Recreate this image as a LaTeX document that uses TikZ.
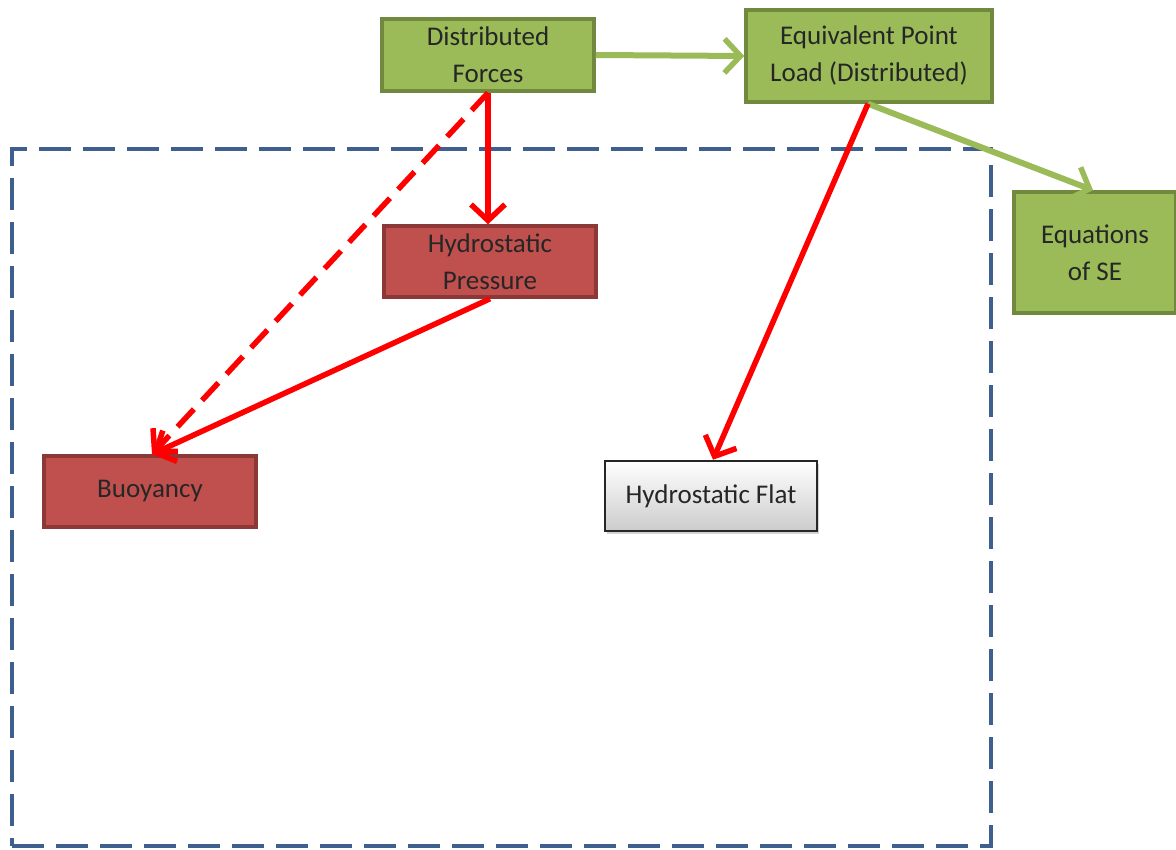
\documentclass[tikz,border=0pt]{standalone}
\usepackage{fontspec}
\setmainfont{Carlito}
\usetikzlibrary{arrows.meta,shadows}
\definecolor{olivefill}{HTML}{9BBB59}
\definecolor{oliveedge}{HTML}{71893F}
\definecolor{brickfill}{HTML}{C0504D}
\definecolor{brickedge}{HTML}{8C3836}
\definecolor{frameblue}{HTML}{3F5F8F}
\definecolor{linkred}{HTML}{FF0000}
\tikzset{
  box/.style={draw, line width=3.5pt, align=center, inner sep=0pt,
    font=\fontsize{27}{37}\selectfont, text=black!85},
  greenbox/.style={box, fill=olivefill, draw=oliveedge},
  redbox/.style={box, fill=brickfill, draw=brickedge},
  greybox/.style={box, draw=black!85, line width=2.5pt, top color=white, bottom color=black!20,
    drop shadow={shadow xshift=2pt, shadow yshift=-3pt, opacity=0.35}},
  tip/.style={-{Straight Barb[length=16pt,width=34pt,line width=5.5pt]}},
  redlink/.style={tip, draw=linkred, line width=5.5pt},
  greenlink/.style={tip, draw=olivefill, line width=6pt},
  frame/.style={draw=frameblue, line width=4.5pt, dash pattern=on 32pt off 12pt}
}
\begin{document}
\begin{tikzpicture}[x=1pt,y=-1pt]
\useasboundingbox (0,0) rectangle (1176,850);
% dashed group outline
\node[frame, minimum width=979pt, minimum height=697pt, inner sep=0pt] (grp) at (501.5,497.5) {};
% nodes
\node[greenbox, minimum width=212pt, minimum height=72pt] (dist) at (488,55) {Distributed\\Forces};
\node[greenbox, minimum width=246pt, minimum height=92pt] (equiv) at (869,56) {Equivalent Point\\Load (Distributed)};
\node[greenbox, minimum width=162pt, minimum height=121pt] (eqse) at (1095,252.5) {Equations\\of SE};
\node[redbox, minimum width=212pt, minimum height=71pt] (press) at (490,261.5) {Hydrostatic\\Pressure};
\node[redbox, minimum width=212pt, minimum height=71pt] (buoy) at (150,491.5) {Buoyancy};
\node[greybox, minimum width=212pt, minimum height=70pt] (flat) at (711,496) {Hydrostatic Flat};
% connectors
\coordinate (distbot) at ([xshift=0pt]dist.south);
\coordinate (equivbot) at ([xshift=-1pt]equiv.south);
\draw[greenlink] (dist.east) -- (equiv.west);
\draw[greenlink] (equivbot) -- ([xshift=-2pt]eqse.north);
\draw[redlink] (distbot) -- (press.north -| distbot);
\draw[redlink, dash pattern=on 24pt off 12pt] (distbot) -- ([xshift=2pt]buoy.north);
\draw[redlink] (press.south) -- ([xshift=2pt]buoy.north);
\draw[redlink] (equivbot) -- ([xshift=2pt]flat.north);
\end{tikzpicture}
\end{document}
